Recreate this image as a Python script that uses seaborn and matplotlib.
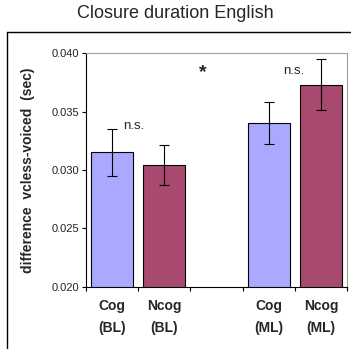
import pandas as pd
import numpy as np
import seaborn as sns
import matplotlib.pyplot as plt
from matplotlib.lines import Line2D

# Data
labels = ["Cog\n(BL)", "Ncog\n(BL)", "Cog\n(ML)", "Ncog\n(ML)"]
order = ["Cog\n(BL)", "Ncog\n(BL)", " ", "Cog\n(ML)", "Ncog\n(ML)"]
means = [0.0315, 0.0304, 0.0340, 0.0373]
errors = [0.0020, 0.0017, 0.0018, 0.0022]
colors = ["#A9AAFF", "#A8496F", "#A9AAFF", "#A8496F"]

df = pd.DataFrame({"cond": labels, "diff": means})

sns.set_style("white")
plt.rcParams['font.family'] = ['Liberation Sans', 'DejaVu Sans']

fig = plt.figure(figsize=(3.51, 3.49), dpi=100)
ax = fig.add_axes([0.245, 0.178, 0.744, 0.670])

sns.barplot(data=df, x="cond", y="diff", order=order, hue="cond",
            hue_order=labels, palette=colors, legend=False, width=0.8,
            edgecolor="black", linewidth=0.8, saturation=1, ax=ax)

# error bars
xpos = [order.index(l) for l in labels]
ax.errorbar(xpos, means, yerr=errors, fmt="none", ecolor="black",
            elinewidth=0.8, capsize=3.3, capthick=0.8)

ax.set_ylim(0.020, 0.040)
ax.set_xlim(-0.5, 4.5)
ax.set_yticks([0.020, 0.025, 0.030, 0.035, 0.040])
ax.set_yticklabels(["0.020", "0.025", "0.030", "0.035", "0.040"], fontsize=8, color="#222222")
ax.set_xticks(range(5))
ax.set_xticklabels(order, fontsize=10, fontweight="bold", linespacing=1.65)
ax.set_xticks(np.arange(-0.5, 5, 1), minor=True)
ax.tick_params(axis="x", which="major", length=0, pad=9)
ax.tick_params(axis="x", which="minor", length=3, width=0.8, direction="out",
               color="black", bottom=True)
ax.tick_params(axis="y", length=3, width=0.8, direction="out", color="black", pad=2, left=True)
ax.set_xlabel("")
ax.set_ylabel("difference  vcless-voiced  (sec)", fontsize=10, fontweight="bold", labelpad=12)

for side in ["top", "right"]:
    ax.spines[side].set_color("#A0A0A0")
    ax.spines[side].set_linewidth(0.8)
for side in ["left", "bottom"]:
    ax.spines[side].set_color("black")
    ax.spines[side].set_linewidth(0.8)

# significance annotations
ax.text(0.42, 0.0338, "n.s.", ha="center", va="center", fontsize=9.5)
ax.text(3.48, 0.0385, "n.s.", ha="center", va="center", fontsize=9.5)
ax.text(1.73, 0.0383, "*", ha="center", va="center", fontsize=14, fontweight="bold")

# titles and outer frame
fig.text(0.50, 0.962, "Closure duration English", ha="center", va="center", fontsize=13)
fig.add_artist(Line2D([0.02, 0.02], [0.908, 0.0], color="black", linewidth=1.0))
fig.add_artist(Line2D([0.02, 1.0], [0.908, 0.908], color="black", linewidth=1.0))

fig.savefig("out.png", dpi=100)
